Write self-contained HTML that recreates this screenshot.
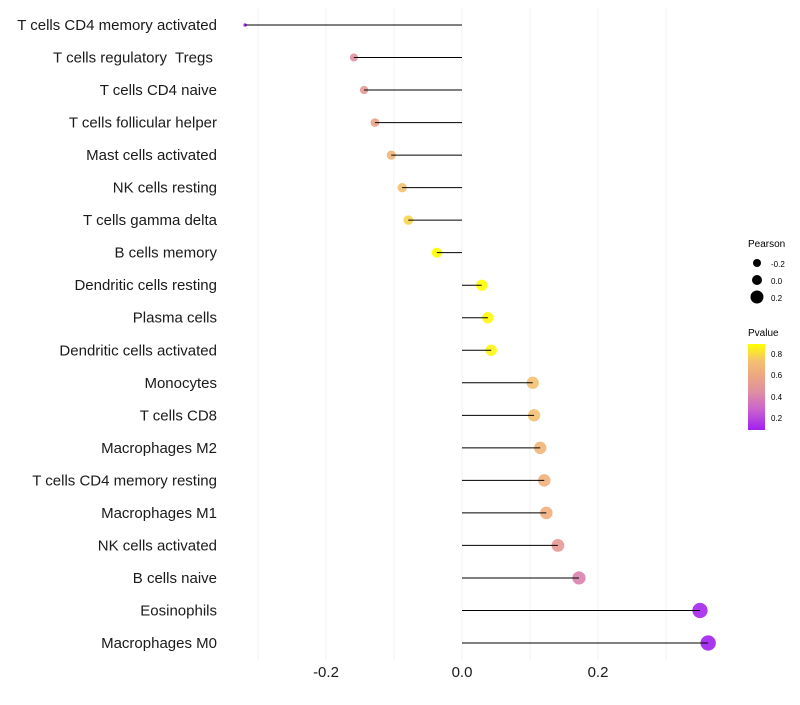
<!DOCTYPE html>
<html><head><meta charset="utf-8"><style>
body{margin:0;background:#fff;font-family:"Liberation Sans",sans-serif;}
</style></head><body>
<svg id="chart" width="800" height="700" xmlns="http://www.w3.org/2000/svg">
<defs><linearGradient id="pg" x1="0" y1="1" x2="0" y2="0">
<stop offset="0" stop-color="#a020f0"/><stop offset="0.25" stop-color="#cc66cc"/><stop offset="0.45" stop-color="#e090a0"/><stop offset="0.65" stop-color="#eeaa80"/><stop offset="0.8" stop-color="#f4c070"/><stop offset="1" stop-color="#ffff00"/></linearGradient></defs>
<g id="grid"></g><g id="marks"></g><g id="ylabels"></g><g id="xlabels"></g>
<g>
<text x="748" y="247" font-size="10">Pearson</text>
<circle cx="757" cy="263" r="4" fill="#000"/>
<text x="771" y="267" font-size="8">-0.2</text>
<circle cx="757" cy="280" r="5" fill="#000"/>
<text x="771" y="284" font-size="8">0.0</text>
<circle cx="757" cy="297" r="6.5" fill="#000"/>
<text x="771" y="301" font-size="8">0.2</text>
<text x="748" y="336" font-size="10">Pvalue</text>
<rect x="748" y="344" width="17" height="86" fill="url(#pg)"/>
<text x="771" y="357" font-size="8">0.8</text>
<text x="771" y="378" font-size="8">0.6</text>
<text x="771" y="400" font-size="8">0.4</text>
<text x="771" y="421" font-size="8">0.2</text>
</g>
</svg>
<script>
const categories=["T cells CD4 memory activated","T cells regulatory  Tregs ","T cells CD4 naive","T cells follicular helper","Mast cells activated","NK cells resting","T cells gamma delta","B cells memory","Dendritic cells resting","Plasma cells","Dendritic cells activated","Monocytes","T cells CD8","Macrophages M2","T cells CD4 memory resting","Macrophages M1","NK cells activated","B cells naive","Eosinophils","Macrophages M0"];
const pearson=[-0.319,-0.159,-0.144,-0.128,-0.104,-0.088,-0.079,-0.037,0.029,0.038,0.043,0.104,0.106,0.115,0.121,0.124,0.141,0.172,0.350,0.362];
const pvalue=[0.1,0.45,0.5,0.55,0.65,0.72,0.78,0.95,0.9,0.88,0.87,0.72,0.72,0.66,0.63,0.62,0.5,0.4,0.12,0.1];
const xTicks=[-0.2,0.0,0.2];
const xGrid=[-0.3,-0.2,-0.1,0,0.1,0.2,0.3];
const NS="http://www.w3.org/2000/svg";
const xs=v=>462+v*680;
const ys=i=>25+i*(618/19);
function mk(t,a,p){const e=document.createElementNS(NS,t);for(const k in a)e.setAttribute(k,a[k]);document.getElementById(p).appendChild(e);return e;}
function lerp(a,b,t){return a.map((x,i)=>Math.round(x+(b[i]-x)*t));}
const ST=[[0.1,[160,32,240]],[0.3,[204,102,204]],[0.45,[224,144,160]],[0.6,[238,170,128]],[0.72,[244,192,112]],[0.9,[255,255,0]]];
function col(p){p=Math.max(0.1,Math.min(0.9,p));for(let i=1;i<ST.length;i++){if(p<=ST[i][0]){const c=lerp(ST[i-1][1],ST[i][1],(p-ST[i-1][0])/(ST[i][0]-ST[i-1][0]));return`rgb(${c})`;}}return"rgb(255,255,0)";}
function rad(v){return Math.sqrt(3+82*Math.max(0,v+0.32));}
xGrid.forEach(g=>{const l=mk("line",{x1:xs(g),x2:xs(g),y1:8,y2:660,stroke:"#f0f0f0","stroke-width":1},"grid");

});
categories.forEach((c,i)=>{
const ci=mk("circle",{cx:xs(pearson[i]),cy:ys(i),r:rad(pearson[i]),fill:col(pvalue[i]),"fill-opacity":0.9},"marks");


const ln=mk("line",{x1:xs(pearson[i]),x2:xs(0),y1:ys(i),y2:ys(i),stroke:"#000","stroke-width":1},"marks");


const t=mk("text",{x:217,y:ys(i)+5,"text-anchor":"end","font-size":15,fill:"#1a1a1a","xml:space":"preserve",style:"white-space:pre"},"ylabels");t.textContent=c;


});
xTicks.forEach(v=>{const t=mk("text",{x:xs(v),y:677,"text-anchor":"middle","font-size":15,fill:"#1a1a1a"},"xlabels");t.textContent=v.toFixed(1);

});
</script>
</body></html>
